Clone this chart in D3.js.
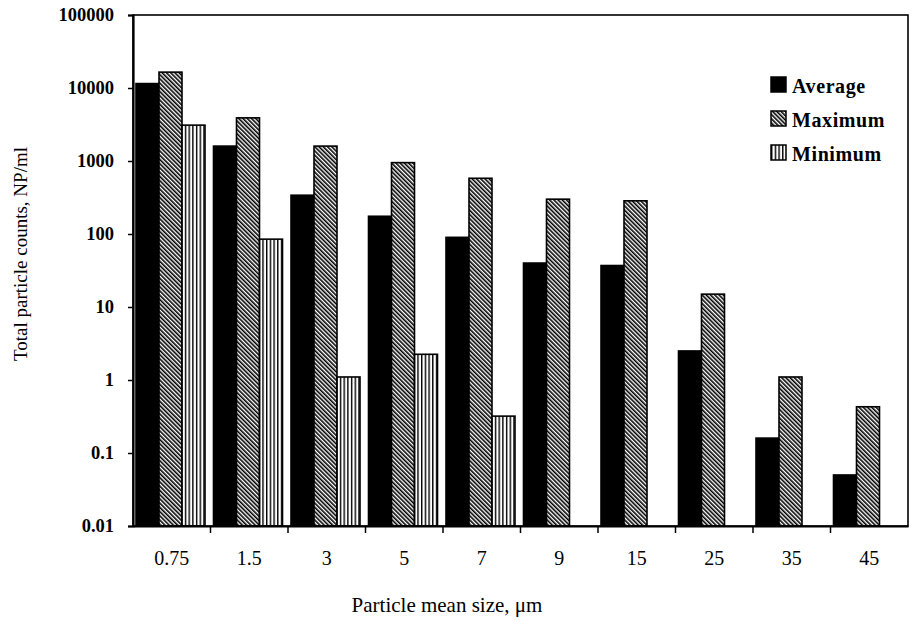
<!DOCTYPE html>
<html lang="en">
<head>
<meta charset="UTF-8">
<title>Total particle counts</title>
<style>
  body { margin: 0; background: #fff; }
  text { font-family: "Liberation Serif", "Times New Roman", serif; fill: #000; }
</style>
</head>
<body>
<script src="https://d3js.org/d3.v7.min.js"></script>
<script>
    // data
    var sizes = ["0.75", "1.5", "3", "5", "7", "9", "15", "25", "35", "45"];
    var average = [11500, 1600, 340, 175, 90, 40, 37, 2.5, 0.16, 0.05];
    var maximum = [16500, 3900, 1600, 950, 580, 300, 285, 15, 1.1, 0.43];
    var minimum = [3100, 85, 1.1, 2.25, 0.32, null, null, 0.01, 0.01, 0.01];
    var seriesNames = ["Average", "Maximum", "Minimum"];
    var yTicks = [0.01, 0.1, 1, 10, 100, 1000, 10000, 100000];
    var yTickLabels = ["0.01", "0.1", "1", "10", "100", "1000", "10000", "100000"];

    const W = 910, H = 620;
    const margin = {top: 15, right: 2, bottom: 94, left: 133};
    const w = W - margin.left - margin.right;
    const h = H - margin.top - margin.bottom;

    const svg = d3.select("body").append("svg")
        .attr("width", W)
        .attr("height", H);

    // fills: solid, diagonal hatch, vertical lines
    const defs = svg.append("defs");
    defs.append("pattern")
        .attr("id", "hatch")
        .attr("patternUnits", "userSpaceOnUse")
        .attr("width", 3).attr("height", 3)
        .attr("patternTransform", "rotate(-45)")
        .call(function (p) {
            p.append("rect").attr("width", 3).attr("height", 3).attr("fill", "#fff");
            p.append("rect").attr("width", 1.6).attr("height", 3).attr("fill", "#000");
        });
    defs.append("pattern")
        .attr("id", "vlines")
        .attr("patternUnits", "userSpaceOnUse")
        .attr("width", 3.7).attr("height", 4)
        .call(function (p) {
            p.append("rect").attr("width", 3.7).attr("height", 4).attr("fill", "#fff");
            p.append("rect").attr("width", 1.4).attr("height", 4).attr("fill", "#000");
        });
    var fills = {Average: "#000", Maximum: "url(#hatch)", Minimum: "url(#vlines)"};

    const g = svg.append("g")
        .attr("transform", "translate(" + margin.left + "," + margin.top + ")");

    const x = d3.scaleBand().domain(sizes).range([0, w]).padding(0);
    const x1 = d3.scaleBand().domain(seriesNames).range([3, 72]).padding(0);
    const y = d3.scaleLog().domain([0.01, 100000]).range([h, 0]);

    var rows = sizes.map(function (s, i) {
        return {size: s, values: [
            {key: "Average", v: average[i]},
            {key: "Maximum", v: maximum[i]},
            {key: "Minimum", v: minimum[i]}
        ]};
    });

    // bars
    const groups = g.selectAll(".grp")
        .data(rows)
        .enter()
        .append("g")
        .attr("class", "grp")
        .attr("transform", function (d) { return "translate(" + x(d.size) + ",0)"; });

    groups.selectAll("rect")
        .data(function (d) { return d.values.filter(function (e) { return e.v != null; }); })
        .enter()
        .append("rect")
        .attr("x", function (d) { return x1(d.key); })
        .attr("width", x1.bandwidth())
        .attr("y", function (d) { return y(d.v); })
        .attr("height", function (d) { return h - y(d.v); })
        .attr("fill", function (d) { return fills[d.key]; })
        .attr("stroke", "#000")
        .attr("stroke-width", 1.6);

    // frame
    g.append("rect")
        .attr("width", w).attr("height", h)
        .attr("fill", "none")
        .attr("stroke", "#000")
        .attr("stroke-width", 1.6);

    // y axis
    const yAxis = g.append("g")
        .call(d3.axisLeft(y)
            .tickValues(yTicks)
            .tickFormat(function (d, i) { return yTickLabels[i]; })
            .tickSize(5)
            .tickPadding(14));
    yAxis.select(".domain").attr("stroke-width", 2.2);
    yAxis.selectAll(".tick line").attr("stroke-width", 1.5);
    yAxis.selectAll("text")
        .style("font-family", "'Liberation Serif', serif")
        .style("font-size", "18.5px")
        .style("font-weight", "bold");

    // x axis: labels at centres, ticks at band edges
    const xAxis = g.append("g")
        .attr("transform", "translate(0," + h + ")")
        .call(d3.axisBottom(x).tickSize(0).tickPadding(25));
    xAxis.select(".domain").attr("stroke-width", 2.2);
    xAxis.selectAll("text")
        .style("font-family", "'Liberation Serif', serif")
        .style("font-size", "20px");
    xAxis.selectAll(".edge")
        .data(sizes.slice(1))
        .enter()
        .append("line")
        .attr("class", "edge")
        .attr("x1", function (d) { return x(d); })
        .attr("x2", function (d) { return x(d); })
        .attr("y1", 0).attr("y2", 7)
        .attr("stroke", "#000")
        .attr("stroke-width", 1.5);

    // axis titles
    svg.append("text")
        .attr("transform", "translate(27,254) rotate(-90)")
        .attr("text-anchor", "middle")
        .style("font-size", "19px")
        .text("Total particle counts, NP/ml");
    svg.append("text")
        .attr("x", 447).attr("y", 612)
        .attr("text-anchor", "middle")
        .style("font-size", "21px")
        .text("Particle mean size, \u03bcm");

    // legend
    const legend = svg.append("g").attr("transform", "translate(771,77)");
    const item = legend.selectAll(".item")
        .data(seriesNames)
        .enter()
        .append("g")
        .attr("class", "item")
        .attr("transform", function (d, i) { return "translate(0," + i * 34 + ")"; });
    item.append("rect")
        .attr("width", 15).attr("height", 15)
        .attr("fill", function (d) { return fills[d]; })
        .attr("stroke", "#000")
        .attr("stroke-width", 1.5);
    item.append("text")
        .attr("x", 21).attr("y", 15.5)
        .style("font-size", "20px")
        .style("font-weight", "bold")
        .style("letter-spacing", "0.6px")
        .text(function (d) { return d; });
</script>
</body>
</html>
